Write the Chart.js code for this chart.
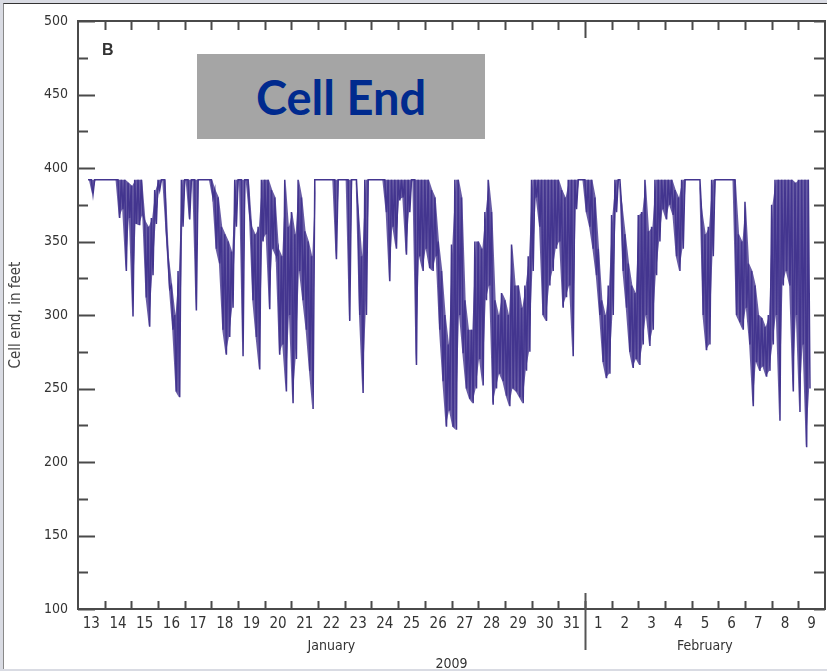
<!DOCTYPE html>
<html>
<head>
<meta charset="utf-8">
<script src="https://cdn.jsdelivr.net/npm/chart.js@4.4.1/dist/chart.umd.min.js"></script>
<style>
html, body { margin: 0; padding: 0; background: #d9dbe3; }
body { width: 827px; height: 671px; position: relative; overflow: hidden; }
#frame { position: absolute; left: 3px; top: 3px; width: 824px; height: 665px; background: #fff; border-top: 1px solid #333; border-left: 1px solid #888; }
#chart { position: absolute; left: 0; top: 0; }
#panel { position: absolute; left: 102px; top: 41px; font: bold 16px "Liberation Sans", Arial, sans-serif; color: #333; }
#box { position: absolute; left: 197px; top: 54px; width: 288px; height: 85px; background: #a5a5a5;
       display: flex; align-items: center; justify-content: center;
       font: bold 47px Lato, "Open Sans", sans-serif; color: #002a8e; }
</style>
</head>
<body>
<div id="frame"></div>
<canvas id="chart" width="827" height="671"></canvas>
<div id="panel">B</div>
<div id="box">Cell End</div>
<script>
// day labels under the axis, one per day (Jan 13 - Feb 9, 2009)
const dayLabels = ["13","14","15","16","17","18","19","20","21","22","23","24","25","26","27","28","29","30","31",
                   "1","2","3","4","5","6","7","8","9"];
const monthLabels = ["January", "February"];
const monthCenters = [9.5, 23.5];   // days since Jan 13 00:00
const yearLabel = "2009";

// cell end, feet: 3-hour bins (8 per day), high and low reading in each bin
const binDays = 1 / 8;
const hiVals = [
  null, null, null, 392, 392, 392, 392, 392,   // Jan 13
  392, 392, 392, 392, 392, 392, 392, 390,      // 14
  388, 392, 392, 392, 364, 360, 366, 385,      // 15
  392, 392, 392, 340, 320, 300, 330, 392,      // 16
  392, 392, 392, 392, 392, 392, 392, 392,      // 17
  392, 385, 380, 360, 355, 350, 343, 392,      // 18
  392, 392, 392, 392, 360, 355, 360, 392,      // 19
  392, 392, 385, 380, 345, 340, 392, 360,      // 20
  370, 355, 392, 380, 357, 350, 340, 392,      // 21
  392, 392, 392, 392, 392, 392, 392, 392,      // 22
  392, 392, 392, 392, 370, 340, 392, 392,      // 23
  392, 392, 392, 392, 392, 392, 392, 392,      // 24
  392, 392, 392, 392, 392, 392, 392, 392,      // 25
  392, 392, 385, 380, 350, 330, 300, 280,      // 26
  348, 392, 392, 380, 310, 290, 290, 350,      // 27
  350, 345, 370, 392, 370, 310, 300, 315,      // 28
  310, 300, 348, 320, 320, 305, 320, 340,      // 29
  392, 392, 392, 392, 392, 392, 392, 392,      // 30
  392, 385, 380, 392, 392, 392, 392, 392,      // 31
  392, 392, 392, 380, 345, 310, 300, 320,      // Feb 1
  368, 392, 392, 375, 355, 335, 320, 315,      // 2
  368, 370, 392, 357, 360, 392, 392, 392,      // 3
  392, 392, 392, 385, 380, 392, 392, 392,      // 4
  392, 392, 392, 370, 355, 360, 392, 392,      // 5
  392, 392, 392, 392, 392, 392, 355, 350,      // 6
  377, 335, 330, 320, 300, 298, 292, 300,      // 7
  375, 392, 392, 392, 392, 392, 392, 390,      // 8
  392, 392, 392, 392                           // 9
];
const loVals = [
  null, null, null, 392, 382, 392, 392, 392,
  392, 392, 392, 392, 366, 372, 330, 366,
  299, 362, 361, 368, 312, 292, 327, 362,
  385, 392, 357, 318, 290, 248, 244, 360,
  392, 365, 392, 303, 392, 392, 392, 392,
  380, 345, 335, 290, 273, 285, 305, 360,
  392, 272, 392, 368, 310, 285, 263, 350,
  355, 304, 345, 340, 273, 280, 248, 300,
  240, 270, 330, 310, 290, 262, 236, 392,
  392, 392, 392, 392, 392, 338, 392, 392,
  392, 296, 392, 392, 300, 247, 300, 392,
  392, 392, 392, 392, 370, 323, 360, 345,
  378, 380, 341, 370, 392, 266, 340, 330,
  345, 332, 330, 340, 290, 255, 224, 235,
  224, 222, 300, 274, 250, 243, 240, 250,
  270, 252, 310, 320, 239, 250, 260, 255,
  245, 238, 250, 248, 244, 240, 262, 275,
  330, 380, 360, 300, 296, 320, 330, 345,
  350, 305, 312, 320, 272, 372, 392, 392,
  370, 360, 345, 327, 300, 268, 257, 260,
  300, 370, 392, 330, 305, 275, 264, 270,
  266, 280, 300, 279, 290, 327, 350, 372,
  365, 375, 368, 340, 330, 345, 392, 392,
  392, 392, 392, 300, 276, 280, 340, 392,
  392, 392, 392, 392, 392, 300, 295, 290,
  305, 280, 238, 268, 262, 265, 258, 262,
  280, 300, 228, 320, 330, 320, 248, 300,
  234, 280, 210, 250
];

const yTicks = [100, 150, 200, 250, 300, 350, 400, 450, 500];

// zigzag trace: high then low inside each bin
const trace = [];
const upper = [];
const lower = [];
hiVals.forEach((h, i) => {
  if (h === null) return;
  trace.push({x: i * binDays, y: h});
  trace.push({x: i * binDays + binDays / 2, y: loVals[i]});
  upper.push({x: i * binDays + binDays / 4, y: h});
  lower.push({x: i * binDays + binDays / 4, y: loVals[i]});
});

const axisFont = "'Liberation Sans Narrow', 'DejaVu Sans Condensed', Arial, sans-serif";
const lineColor = "#43358f";

// inward tick marks and frame like the printed figure
const frameTicks = {
  id: "frameTicks",
  afterDatasetsDraw(chart) {
    const {ctx, chartArea: a, scales} = chart;
    const x = scales.x, y = scales.y;
    ctx.save();
    ctx.strokeStyle = "#4a4a4a";
    ctx.lineWidth = 2;
    ctx.strokeRect(a.left, a.top, a.right - a.left, a.bottom - a.top);
    ctx.beginPath();
    for (let v = 100; v <= 500; v += 25) {
      const py = Math.round(y.getPixelForValue(v)) + 0.5;
      const len = v % 50 === 0 ? 17 : 10;
      ctx.moveTo(a.left, py); ctx.lineTo(a.left + len, py);
      ctx.moveTo(a.right, py); ctx.lineTo(a.right - 11, py);
    }
    for (let d = 1; d < dayLabels.length; d++) {
      const px = Math.round(x.getPixelForValue(d)) + 0.5;
      ctx.moveTo(px, a.top); ctx.lineTo(px, a.top + (d === 19 ? 17 : 9));
      ctx.moveTo(px, a.bottom); ctx.lineTo(px, a.bottom - 8);
    }
    ctx.stroke();
    // month divider
    const mx = Math.round(x.getPixelForValue(19)) + 0.5;
    ctx.beginPath();
    ctx.strokeStyle = "#555";
    ctx.lineWidth = 2;
    ctx.moveTo(mx, a.bottom - 16); ctx.lineTo(mx, a.bottom + 41);
    ctx.stroke();
    ctx.restore();
  }
};

new Chart(document.getElementById("chart"), {
  type: "line",
  data: {
    datasets: [
      {data: trace, borderColor: lineColor, borderWidth: 1.5, pointRadius: 0, tension: 0, fill: false},
      {data: upper, borderWidth: 0, borderColor: "rgba(0,0,0,0)", pointRadius: 0, tension: 0, fill: false},
      {data: lower, borderWidth: 0, borderColor: "rgba(0,0,0,0)", pointRadius: 0, tension: 0,
       fill: "-1", backgroundColor: "rgba(67,53,143,0.8)"}
    ]
  },
  options: {
    responsive: false,
    animation: false,
    layout: {padding: {left: 0, right: 2, top: 21, bottom: 0}},
    plugins: {legend: {display: false}, tooltip: {enabled: false}},
    scales: {
      x: {
        type: "linear", position: "bottom", min: 0, max: 28, weight: 1,
        afterBuildTicks: s => { s.ticks = dayLabels.map((l, i) => ({value: i + 0.5})); },
        afterFit: s => { s.height = 24; },
        ticks: {
          autoSkip: false, maxRotation: 0, padding: 6,
          color: "#333", font: {family: axisFont, size: 15},
          callback: (v, i) => dayLabels[i]
        },
        grid: {display: true, drawOnChartArea: false, drawTicks: false},
        border: {display: false}
      },
      xMonth: {
        type: "linear", position: "bottom", min: 0, max: 28, weight: 2,
        afterBuildTicks: s => { s.ticks = monthCenters.map(v => ({value: v})); },
        afterFit: s => { s.height = 38; },
        ticks: {
          autoSkip: false, maxRotation: 0, padding: 5,
          color: "#333", font: {family: axisFont, size: 14},
          callback: (v, i) => monthLabels[i]
        },
        title: {display: true, text: yearLabel, color: "#333",
                font: {family: axisFont, size: 14}, padding: {top: 0, bottom: -2}},
        grid: {display: true, drawOnChartArea: false, drawTicks: false},
        border: {display: false}
      },
      y: {
        min: 100, max: 500,
        afterBuildTicks: s => { s.ticks = yTicks.map(v => ({value: v})); },
        afterFit: s => { s.width = 78; },
        ticks: {padding: 10, color: "#333", font: {family: axisFont, size: 14}},
        title: {display: true, text: "Cell end, in feet", color: "#444",
                font: {family: axisFont, size: 15}, padding: {top: 7, bottom: 0}},
        grid: {display: true, drawOnChartArea: false, drawTicks: false},
        border: {display: false}
      }
    }
  },
  plugins: [frameTicks]
});
</script>
</body>
</html>
